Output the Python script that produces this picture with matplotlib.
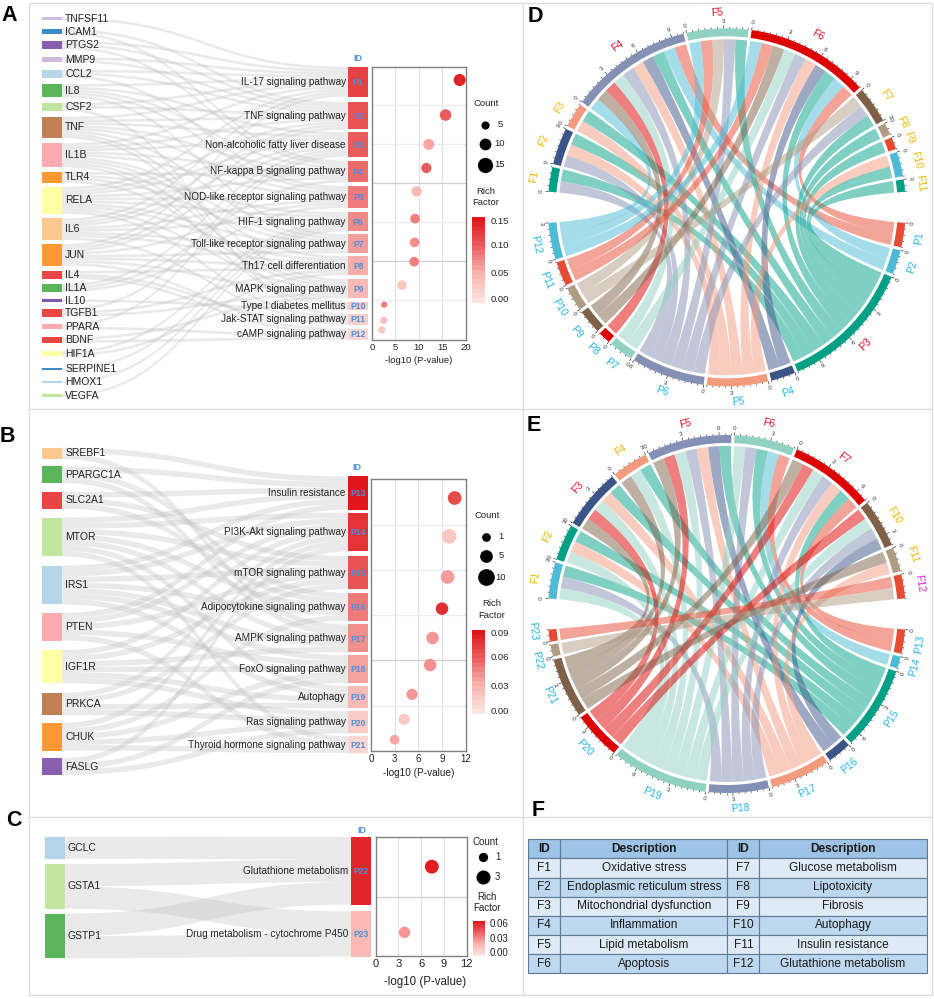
import numpy as np
import matplotlib
matplotlib.use("Agg")
import matplotlib.pyplot as plt
from matplotlib.path import Path
from matplotlib.patches import PathPatch, Rectangle
from matplotlib.colors import LinearSegmentedColormap

plt.rcParams['font.family'] = ['Liberation Sans', 'DejaVu Sans']

W, H = 934, 999

# ---------------- data: panel A ----------------
genes_a = ['TNFSF11','ICAM1','PTGS2','MMP9','CCL2','IL8','CSF2','TNF','IL1B','TLR4','RELA','IL6','JUN',
           'IL4','IL1A','IL10','TGFB1','PPARA','BDNF','HIF1A','SERPINE1','HMOX1','VEGFA']
paths_a = ['IL-17 signaling pathway','TNF signaling pathway','Non-alcoholic fatty liver disease',
           'NF-kappa B signaling pathway','NOD-like receptor signaling pathway','HIF-1 signaling pathway',
           'Toll-like receptor signaling pathway','Th17 cell differentiation','MAPK signaling pathway',
           'Type I diabetes mellitus','Jak-STAT signaling pathway','cAMP signaling pathway']
ids_a = ['P%d' % i for i in range(1, 13)]
links_a = [
 ['TNFSF11','PTGS2','MMP9','CCL2','IL8','CSF2','TNF','IL1B','RELA','IL6','JUN'],
 ['ICAM1','PTGS2','MMP9','CCL2','CSF2','TNF','IL1B','RELA','IL6','JUN'],
 ['IL8','TNF','IL1B','RELA','IL6','JUN','IL1A','TGFB1','PPARA'],
 ['ICAM1','PTGS2','IL8','TNF','IL1B','TLR4','RELA','IL1A'],
 ['CCL2','IL8','TNF','IL1B','RELA','IL6','JUN','IL1A'],
 ['TLR4','RELA','IL6','HIF1A','SERPINE1','HMOX1','VEGFA'],
 ['IL8','TNF','IL1B','TLR4','RELA','IL6','JUN'],
 ['IL1B','RELA','IL6','JUN','IL4','TGFB1','HIF1A'],
 ['TNF','IL1B','TLR4','RELA','JUN','TGFB1','BDNF'],
 ['TNF','IL1B','IL10'],
 ['CSF2','IL4','IL6','RELA'],
 ['PPARA','BDNF','JUN','IL4'],
]
pval_a = [18.7, 15.7, 12.1, 11.6, 9.5, 9.2, 9.1, 9.0, 6.4, 2.6, 2.5, 2.1]
rich_a = [0.145, 0.105, 0.06, 0.105, 0.045, 0.085, 0.075, 0.085, 0.032, 0.085, 0.04, 0.03]

# ---------------- data: panel B ----------------
genes_b = ['SREBF1','PPARGC1A','SLC2A1','MTOR','IRS1','PTEN','IGF1R','PRKCA','CHUK','FASLG']
paths_b = ['Insulin resistance','PI3K-Akt signaling pathway','mTOR signaling pathway',
           'Adipocytokine signaling pathway','AMPK signaling pathway','FoxO signaling pathway',
           'Autophagy','Ras signaling pathway','Thyroid hormone signaling pathway']
ids_b = ['P%d' % i for i in range(13, 22)]
links_b = [
 ['SREBF1','PPARGC1A','SLC2A1','MTOR','IRS1','PTEN'],
 ['MTOR','IRS1','PTEN','IGF1R','PRKCA','CHUK','FASLG'],
 ['SLC2A1','MTOR','IRS1','PTEN','IGF1R','PRKCA'],
 ['PPARGC1A','SLC2A1','MTOR','IRS1','CHUK'],
 ['SREBF1','PPARGC1A','MTOR','IRS1','IGF1R'],
 ['IRS1','PTEN','IGF1R','CHUK','FASLG'],
 ['MTOR','IRS1','IGF1R','PRKCA'],
 ['IGF1R','PRKCA','CHUK','FASLG'],
 ['MTOR','PTEN','CHUK'],
]
pval_b = [10.6, 9.9, 9.7, 9.0, 7.8, 7.5, 5.2, 4.2, 3.0]
rich_b = [0.068, 0.018, 0.038, 0.08, 0.04, 0.042, 0.04, 0.018, 0.035]

# ---------------- data: panel C ----------------
genes_c = ['GCLC','GSTA1','GSTP1']
paths_c = ['Glutathione metabolism','Drug metabolism - cytochrome P450']
ids_c = ['P22','P23']
links_c = [['GCLC','GSTA1','GSTP1'], ['GSTA1','GSTP1']]
pval_c = [7.4, 3.8]
rich_c = [0.06, 0.028]

# ---------------- data: chord panels ----------------
npg = ['#E64B35','#4DBBD5','#00A087','#3C5488','#F39B7F','#8491B4','#91D1C2','#DC0000','#7E6148','#B09C85']
f_d = ['F1','F2','F3','F4','F5','F6','F7','F8','F9','F10','F11']
p_d = ['P%d' % i for i in range(1, 13)]
chord_d = {
 'F1': ['P6','P3'], 'F2': ['P6','P5','P3'], 'F3': ['P5','P3'],
 'F4': ['P12','P9','P8','P7','P6','P5','P4','P3','P2','P1'],
 'F5': ['P12','P11','P10','P6','P3'],
 'F6': ['P12','P11','P9','P7','P6','P5','P4','P3','P2','P1'],
 'F7': ['P10','P6','P3'], 'F8': ['P3'], 'F9': ['P3'], 'F10': ['P5','P3'], 'F11': ['P3'],
}
f_e = ['F1','F2','F3','F4','F5','F6','F7','F10','F11','F12']
p_e = ['P%d' % i for i in range(13, 24)]
chord_e = {
 'F1': ['P19','P18','P15'], 'F2': ['P19','P17','P15'], 'F3': ['P21','P20','P19','P17','P15'],
 'F4': ['P21','P19','P15'], 'F5': ['P21','P20','P19','P18','P17','P16','P15'],
 'F6': ['P19','P18','P15','P14','P13'], 'F7': ['P21','P20','P19','P18','P17','P15','P13'],
 'F10': ['P20','P19','P18','P16'], 'F11': ['P21','P17'], 'F12': ['P23','P22'],
}

# ---------------- data: table ----------------
table_rows = [
 ('F1','Oxidative stress','F7','Glucose metabolism'),
 ('F2','Endoplasmic reticulum stress','F8','Lipotoxicity'),
 ('F3','Mitochondrial dysfunction','F9','Fibrosis'),
 ('F4','Inflammation','F10','Autophagy'),
 ('F5','Lipid metabolism','F11','Insulin resistance'),
 ('F6','Apoptosis','F12','Glutathione metabolism'),
]
table_head = ('ID','Description','ID','Description')

# ---------------- styles / layout ----------------
PUR_L,BLUE_D,PUR_D,BLUE_L,GRN_D,GRN_L,BRN,PINK,ORG,YEL,PEACH,RED = ('#cfb9dc','#3a8cc4','#8b5fb0','#b5d5ea','#5bb55b',
    '#c2e5a0','#c17f56','#fdabb0','#ff9933','#ffffa6','#fdc88f','#e84545')
colors_a = [PUR_L,BLUE_D,PUR_D,PUR_L,BLUE_L,GRN_D,GRN_L,BRN,PINK,ORG,YEL,PEACH,ORG,RED,GRN_D,'#7e57b0',RED,PINK,RED,YEL,BLUE_D,BLUE_L,GRN_L]
colors_b = [PEACH,GRN_D,RED,GRN_L,BLUE_L,PINK,YEL,BRN,ORG,PUR_D]
colors_c = [BLUE_L,GRN_L,GRN_D]
shade_a = [.80,.73,.68,.62,.56,.50,.42,.36,.30,.18,.14,.10]
shade_b = [1.0,.86,.72,.56,.48,.40,.30,.16,.10]
shade_c = [.92,.30]

left_cy_a = np.array([18.7,31.8,45,59.7,73.7,90.7,107,127.5,155.3,177.5,200.3,229.2,254.8,274.7,288,300.7,312.7,326.7,340,353.7,369,382,395.7])
right_cy_a = np.array([81.7,115.8,144.5,171.5,197,221.7,243.8,265.7,288.7,305.7,319.2,334.2])
dot_y_a = np.array([240,345,433,504,574,656,727,785,855,914,961,990])/3
left_cy_b = 410+np.array([130,194,271,381,525,650,770,882,980,1070])/3
right_cy_b = 410+np.array([249,366,488,590,685,777,861,937,1004])/3
dot_y_b = 410+np.array([264,379,501,596,684,765,853,928,989])/3
left_cy_c = 800+np.array([143,259,408])/3
right_cy_c = 800+np.array([212,402])/3
dot_y_c = 800+np.array([200,397])/3

cmap = LinearSegmentedColormap.from_list('rf', ['#fde4df','#f8b4b0','#ea6060','#e0161a'])

fig = plt.figure(figsize=(W/100, H/100), dpi=100, facecolor='white')
main = fig.add_axes([0,0,1,1])
main.set_xlim(0,W); main.set_ylim(H,0); main.axis('off')

def inset(x0,y0,x1,y1):
    return fig.add_axes([x0/W, 1-y1/H, (x1-x0)/W, (y1-y0)/H])

# panel frame
FRAME = '#dddddd'
for seg in [((29,29),(3,995)),((932,932),(3,995)),((29,932),(3,3)),((29,932),(995,995)),
            ((29,932),(409,409)),((29,932),(817,817)),((522.5,522.5),(3,995))]:
    main.plot(seg[0],seg[1],color=FRAME,lw=1,zorder=0,solid_capstyle='butt')

for s,x,y in [('A',9.3,15.7),('B',7.7,437),('C',14,820),('D',535.7,17),('E',534,425.7),('F',538,811)]:
    main.text(x,y,s,fontsize=15.5,fontweight='bold',ha='center',va='center',color='black',zorder=8)

def sankey(genes, colors, left_cy, right_cy, links, shades, paths, ids, lx, rx, unit_l, unit_r, idy, idx,
           fs_gene=7.5, fs_path=7.2):
    nw = 19.7
    lcount = {g: sum(g in l for l in links) for g in genes}
    rcount = [len(l) for l in links]
    ltop = {g: c - lcount[g]*unit_l/2 for g,c in zip(genes,left_cy)}
    rtop = [c - n*unit_r/2 for c,n in zip(right_cy,rcount)]
    lused = {g:0 for g in genes}
    # left-end slots follow pathway order, right-end slots follow gene order
    slots = []
    for i,l in enumerate(links):
        order = sorted(l, key=genes.index)
        for j,g in enumerate(order):
            y0 = ltop[g] + lused[g]*unit_l
            lused[g] += 1
            y1 = rtop[i] + j*unit_r
            slots.append((y0,y1))
    x0, x1 = lx+nw, rx
    xm = (x0+x1)/2
    for y0,y1 in slots:
        verts = [(x0,y0),(xm,y0),(xm,y1),(x1,y1),(x1,y1+unit_r),(xm,y1+unit_r),(xm,y0+unit_l),(x0,y0+unit_l),(x0,y0)]
        codes = [Path.MOVETO,Path.CURVE4,Path.CURVE4,Path.CURVE4,Path.LINETO,Path.CURVE4,Path.CURVE4,Path.CURVE4,Path.CLOSEPOLY]
        main.add_patch(PathPatch(Path(verts,codes),fc='#c0c0c0',ec='none',alpha=0.32,zorder=1))
    for g,c,cy in zip(genes,colors,left_cy):
        h = lcount[g]*unit_l
        main.add_patch(Rectangle((lx,cy-h/2),nw,h,fc=c,ec='none',zorder=2))
        main.text(lx+nw+3.2,cy,g,fontsize=fs_gene,ha='left',va='center',color='#222222',zorder=4)
    for p,i_,s,cy,n in zip(paths,ids,shades,right_cy,rcount):
        h = n*unit_r
        main.add_patch(Rectangle((rx,cy-h/2),nw,h,fc=cmap(s),ec='none',zorder=2))
        main.text(rx-2.5,cy,p,fontsize=fs_path,ha='right',va='center',color='#222222',zorder=4)
        main.text(rx+nw/2,cy+0.7,i_,fontsize=6.2,fontweight='bold',ha='center',va='center',color='#4a8fdc',zorder=4)
    main.text(idx,idy,'ID',fontsize=6.5,fontweight='bold',ha='center',va='center',color='#4a8fdc',zorder=4)
    return rcount

def dotplot(box, xmax, xticks, xs, ys, counts, rich, vmax, k, hl, dark, lab_y, tick_fs, lab_fs, lab_x):
    x0,y0,x1,y1 = box
    ax = inset(x0,y0,x1,y1)
    ax.set_xlim(0,xmax); ax.set_ylim(y1,y0); ax.set_facecolor('white')
    for t in xticks[1:-1]:
        ax.axvline(t,color='#e2e2e2',lw=0.9,zorder=1)
    for h in hl:
        ax.axhline(h,color='#cfcfcf' if h in dark else '#ececec',lw=0.9,zorder=1)
    sizes = [(0.72*k*np.sqrt(c))**2 for c in counts]
    ax.scatter(xs,ys,s=sizes,c=rich,cmap=cmap,vmin=0,vmax=vmax,linewidths=0,zorder=3,clip_on=False)
    ax.set_xticks(xticks); ax.set_yticks([])
    ax.tick_params(axis='x',length=0,pad=2.5,labelsize=tick_fs,labelcolor='#222222')
    for s in ax.spines.values():
        s.set_color('#808080'); s.set_linewidth(1.0)
    main.text(lab_x,lab_y,'-log10 (P-value)',fontsize=lab_fs,ha='center',va='center',color='#222222')
    return ax

def legend(cx,title_y,dot_x,dot_ys,dot_d,counts,lab_x,rich_x,rich_ys,bar,bar_labs,bar_ys,bar_lab_x,fs=6.8):
    main.text(cx,title_y,'Count',fontsize=fs,ha='center',va='center',color='#222222')
    for y,d,c in zip(dot_ys,dot_d,counts):
        main.scatter([dot_x],[y],s=(0.72*d)**2,c='black',linewidths=0,zorder=4)
        main.text(lab_x,y,str(c),fontsize=fs,ha='center',va='center',color='#222222')
    main.text(rich_x,rich_ys[0],'Rich',fontsize=fs,ha='center',va='center',color='#222222')
    main.text(rich_x,rich_ys[1],'Factor',fontsize=fs,ha='center',va='center',color='#222222')
    ax = inset(*bar)
    ax.imshow(np.linspace(1,0,18).reshape(-1,1),cmap=cmap,aspect='auto',vmin=0,vmax=1,interpolation='nearest')
    ax.axis('off')
    for s,y in zip(bar_labs,bar_ys):
        main.text(bar_lab_x,y,s,fontsize=fs,ha='left',va='center',color='#222222')

# Panel A
counts_a = sankey(genes_a,colors_a,left_cy_a,right_cy_a,links_a,shade_a,paths_a,ids_a,42.3,348.3,2.68,2.72,58.3,357.8)
dotplot((372,66.7,465.7,340),20,[0,5,10,15,20],pval_a,dot_y_a,counts_a,rich_a,0.155,3.65,
        np.array([316,433,550,667,784,901])/3,np.array([550,784])/3,360.7,6.8,6.8,419)
legend(486,104,484.7,[124.7,143.7,164.7],[8.2,11.8,15.2],[5,10,15],500,486,[191,202.3],(472,217,484.7,303),
       ['0.15','0.10','0.05','0.00'],[221.3,246,274,299],491)

# Panel B
counts_b = sankey(genes_b,colors_b,left_cy_b,right_cy_b,links_b,shade_b,paths_b,ids_b,42.3,348.3,5.55,5.55,467.3,357.3)
dotplot((371,479.3,465.7,751),12,[0,3,6,9,12],pval_b,dot_y_b,counts_b,rich_b,0.09,5.6,
        410+np.array([344,481,616,751,887])/3,[410+751/3],773,6.9,7.2,418.5)
legend(487.3,515.3,485.7,[536.7,555.7,577],[8.7,12.7,16.7],[1,5,10],501,491.7,[603.7,615.3],(472,630,485,714),
       ['0.09','0.06','0.03','0.00'],[633.7,658,686.3,711.3],491)

# Panel C
counts_c = sankey(genes_c,colors_c,left_cy_c,right_cy_c,links_c,shade_c,paths_c,ids_c,45,351,22.3,22.6,830.3,361.7)
dotplot((375.7,837.3,466.7,956),12,[0,3,6,9,12],pval_c,dot_y_c,counts_c,rich_c,0.062,8.0,
        [800+290/3],[800+290/3],981.7,8,8.3,425)
legend(485,841.7,483.3,[856.7,876.7],[9.3,14],[1,3],497.7,486.7,[897.3,908.3],(473.3,920.7,485,956),
       ['0.06','0.03','0.00'],[924.3,939.3,952.7],489.7,fs=7)

# ---------- chord diagrams ----------
def pt(cx,cy,a,r):
    t = np.deg2rad(a)
    return (cx + r*np.cos(t), cy - r*np.sin(t))

def chord(cx,cy,fs,ps,links,fcols,pcols,flab,plab,R=179,track=8,gap=3,nudge=None):
    nudge = nudge or {}
    Ri = R-track; Rr = Ri-gap; Rc = 0.34*R
    fsize = [len(links[f]) for f in fs]
    psize = [sum(p in links[f] for f in fs) for p in ps]
    fu = (170-(len(fs)-1)*1.0)/sum(fsize)
    pu = (170-(len(ps)-1)*1.0)/sum(psize)
    # sectors run clockwise: F from 175 down to 5, P from -5 down to -175
    fstart = {}; a = 175.0
    for f,n in zip(fs,fsize):
        fstart[f] = a; a -= n*fu + 1.0
    pstart = {}; a = -5.0
    for p,n in zip(ps,psize):
        pstart[p] = a; a -= n*pu + 1.0
    def sector(start,n,u,col,lab,labcol,top):
        end = start-n*u
        arc = np.linspace(start,end,max(int(n*u),2)*2)
        pts = [pt(cx,cy,t,R) for t in arc]+[pt(cx,cy,t,Ri) for t in arc[::-1]]
        main.fill(*zip(*pts),fc=col,ec='none',zorder=3)
        for v in np.arange(0,n+1e-6,0.5):
            t = start-v*u
            major = abs(v % 3) < 1e-6
            l = 3 if major else 1.5
            p0,p1 = pt(cx,cy,t,R),pt(cx,cy,t,R+l)
            main.plot([p0[0],p1[0]],[p0[1],p1[1]],color='#222222',lw=0.45,zorder=3,solid_capstyle='butt')
            if major:
                q = pt(cx,cy,t,R+7)
                main.text(q[0],q[1],str(int(v)),fontsize=4.5,ha='center',va='center',color='#333333',
                          rotation=(t-90) if top else (t+90),rotation_mode='anchor',zorder=4)
        mid = (start+end)/2 + nudge.get(lab,0)
        q = pt(cx,cy,mid,R+16)
        main.text(q[0],q[1],lab,fontsize=7.6,ha='center',va='center',color=labcol,
                  rotation=(mid-90) if top else (mid+90),rotation_mode='anchor',zorder=4)
    for f,n,c,l in zip(fs,fsize,fcols,flab):
        sector(fstart[f],n,fu,c,f,l,True)
    for p,n,c,l in zip(ps,psize,pcols,plab):
        sector(pstart[p],n,pu,c,p,l,False)
    # ribbons: clockwise inside each F sector by descending P, inside each P sector by descending F
    pused = {p:0 for p in ps}
    pairs = {}
    for p in ps:
        for f in fs[::-1]:
            if p in links[f]:
                pairs[(f,p)] = pused[p]; pused[p] += 1
    pcol = dict(zip(ps,pcols))
    for f in fs:
        for j,p in enumerate(links[f]):
            a0 = fstart[f]-j*fu; a1 = a0-fu
            b0 = pstart[p]-pairs[(f,p)]*pu; b1 = b0-pu
            arc_a = np.linspace(a0,a1,6); arc_b = np.linspace(b0,b1,6)
            verts = [pt(cx,cy,t,Rr) for t in arc_a]; codes = [Path.MOVETO]+[Path.LINETO]*5
            verts += [pt(cx,cy,a1,Rc),pt(cx,cy,b0,Rc),pt(cx,cy,b0,Rr)]; codes += [Path.CURVE4]*3
            verts += [pt(cx,cy,t,Rr) for t in arc_b[1:]]; codes += [Path.LINETO]*5
            verts += [pt(cx,cy,b1,Rc),pt(cx,cy,a0,Rc),pt(cx,cy,a0,Rr)]; codes += [Path.CURVE4]*3
            main.add_patch(PathPatch(Path(verts,codes),fc=pcol[p],ec='none',alpha=0.5,zorder=2))

GOLD,CRED,CYAN,MAG = '#f2b705','#e8142a','#25b5e8','#e020e0'
chord(726.8,207.3,f_d,p_d,chord_d,
      [npg[(i+2)%10] for i in range(len(f_d))],[npg[i%10] for i in range(len(p_d))],
      [GOLD,GOLD,GOLD,CRED,CRED,CRED,GOLD,GOLD,GOLD,GOLD,GOLD],
      [CYAN,CYAN,CRED]+[CYAN]*9)
chord(726.8,614,f_e,p_e,chord_e,
      [npg[(i+1)%10] for i in range(len(f_e))],[npg[i%10] for i in range(len(p_e))],
      [GOLD,GOLD,CRED,GOLD,CRED,CRED,CRED,GOLD,GOLD,MAG],
      [CYAN]*11,nudge={'P23':-2.0,'P22':2.0})

# ---------- table ----------
col_x = 520+np.array([25,121,622,718,1220])/3
row_top = 800+118/3
row_h = (520-118)/3/7
EDGE = '#5f7a95'
for r,row in enumerate([table_head]+table_rows):
    y = row_top+r*row_h
    for c,t in enumerate(row):
        fc = '#9dc3e6' if r == 0 else ('#deebf7' if r % 2 == 1 else '#bdd7ee')
        main.add_patch(Rectangle((col_x[c],y),col_x[c+1]-col_x[c],row_h,fc=fc,ec=EDGE,lw=0.8,zorder=2))
        main.text((col_x[c]+col_x[c+1])/2,y+row_h/2,t,fontsize=8.6,ha='center',va='center',
                  color='#1a1a1a',fontweight='bold' if r == 0 else 'normal',zorder=3)

fig.savefig('out.png',dpi=100,facecolor='white')
